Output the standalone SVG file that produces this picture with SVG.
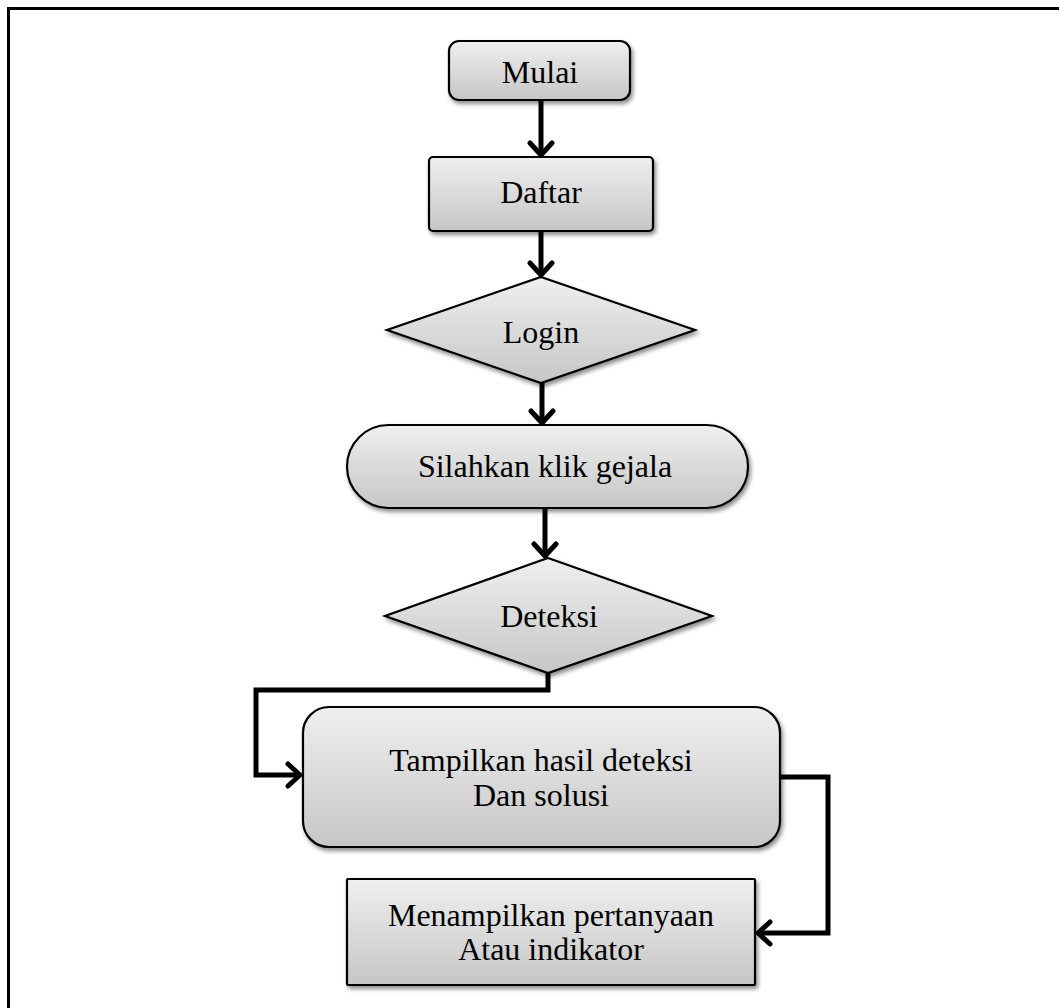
<svg xmlns="http://www.w3.org/2000/svg" width="1059" height="1008" viewBox="0 0 1059 1008">
  <style>
    .shape { fill: url(#gray); stroke: #000; stroke-width: 2.2; filter: url(#shadow); }
    .label { font-family: "Liberation Serif", "Times New Roman", serif; font-size: 32px; fill: #000; text-anchor: middle; }
    .wire { fill: none; stroke: #000; stroke-width: 5; stroke-linejoin: miter; marker-end: url(#chevron); }
  </style>
  <defs>
    <linearGradient id="gray" x1="0" y1="0" x2="0" y2="1">
      <stop offset="0" stop-color="#efefef"/>
      <stop offset="1" stop-color="#c6c6c6"/>
    </linearGradient>
    <filter id="shadow" x="-10%" y="-10%" width="125%" height="140%">
      <feDropShadow dx="2" dy="3" stdDeviation="2" flood-color="#000" flood-opacity="0.45"/>
    </filter>
    <marker id="chevron" markerUnits="userSpaceOnUse" markerWidth="30" markerHeight="30" refX="14" refY="15" orient="auto">
      <path d="M3,4 L15,15 L3,26" fill="none" stroke="#000" stroke-width="5" stroke-linecap="round" stroke-linejoin="round"/>
    </marker>
  </defs>

  <rect width="1059" height="1008" fill="#fff"/>
  <!-- page frame -->
  <path d="M8.5,1012 V8.5 H1064" fill="none" stroke="#000" stroke-width="3"/>

  <g id="connectors">
    <path class="wire" d="M541,100 V154"/>
    <path class="wire" d="M541,231 V274"/>
    <path class="wire" d="M542,383 V422"/>
    <path class="wire" d="M545,508 V555"/>
    <path class="wire" d="M548,673 V690 H256 V775 H299"/>
    <path class="wire" d="M780,777 H828 V933 H759"/>
  </g>

  <g id="mulai">
    <rect class="shape" x="449" y="41" width="181" height="59" rx="10"/>
    <text class="label" x="540" y="83">Mulai</text>
  </g>

  <g id="daftar">
    <rect class="shape" x="429" y="157" width="224" height="74" rx="4"/>
    <text class="label" x="541" y="203">Daftar</text>
  </g>

  <g id="login">
    <polygon class="shape" points="541,277 695,330 541,383 387,330"/>
    <text class="label" x="541" y="343">Login</text>
  </g>

  <g id="silahkan">
    <rect class="shape" x="347" y="425" width="401" height="83" rx="41.5"/>
    <text class="label" x="545" y="477">Silahkan klik gejala</text>
  </g>

  <g id="deteksi">
    <polygon class="shape" points="548,558 712,616 548,673 385,616"/>
    <text class="label" x="549" y="627">Deteksi</text>
  </g>

  <g id="tampilkan">
    <rect class="shape" x="303" y="707" width="477" height="140" rx="26"/>
    <text class="label" x="541" y="771">Tampilkan hasil deteksi</text>
    <text class="label" x="541" y="806">Dan solusi</text>
  </g>

  <g id="menampilkan">
    <rect class="shape" x="347" y="879" width="408" height="106" rx="1"/>
    <text class="label" x="551" y="926">Menampilkan pertanyaan</text>
    <text class="label" x="551" y="960">Atau indikator</text>
  </g>
</svg>
